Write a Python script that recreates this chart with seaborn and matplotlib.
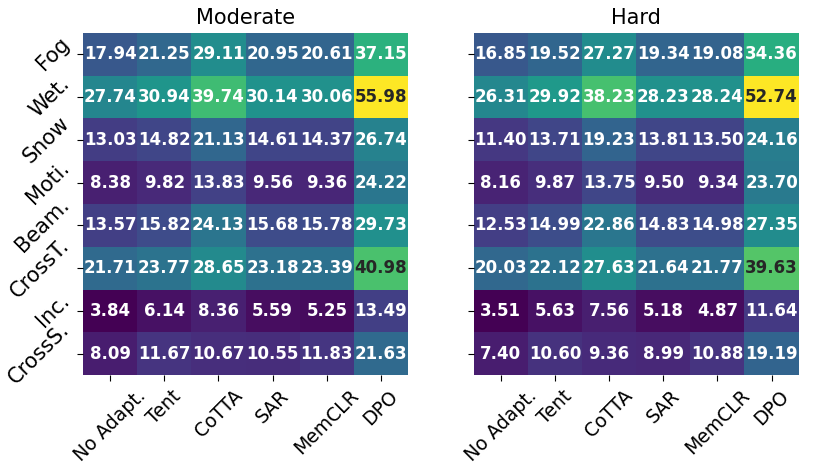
import numpy as np
import pandas as pd
import matplotlib
matplotlib.use('Agg')
import matplotlib.pyplot as plt
import seaborn as sns

# Corruption types (rows) and methods (columns)
corruptions = ['Fog', 'Wet.', 'Snow', 'Moti.', 'Beam.', 'CrossT.', 'Inc.', 'CrossS.']
methods = ['No Adapt.', 'Tent', 'CoTTA', 'SAR', 'MemCLR', 'DPO']

moderate = [
    [17.94, 21.25, 29.11, 20.95, 20.61, 37.15],
    [27.74, 30.94, 39.74, 30.14, 30.06, 55.98],
    [13.03, 14.82, 21.13, 14.61, 14.37, 26.74],
    [8.38, 9.82, 13.83, 9.56, 9.36, 24.22],
    [13.57, 15.82, 24.13, 15.68, 15.78, 29.73],
    [21.71, 23.77, 28.65, 23.18, 23.39, 40.98],
    [3.84, 6.14, 8.36, 5.59, 5.25, 13.49],
    [8.09, 11.67, 10.67, 10.55, 11.83, 21.63],
]

hard = [
    [16.85, 19.52, 27.27, 19.34, 19.08, 34.36],
    [26.31, 29.92, 38.23, 28.23, 28.24, 52.74],
    [11.40, 13.71, 19.23, 13.81, 13.50, 24.16],
    [8.16, 9.87, 13.75, 9.50, 9.34, 23.70],
    [12.53, 14.99, 22.86, 14.83, 14.98, 27.35],
    [20.03, 22.12, 27.63, 21.64, 21.77, 39.63],
    [3.51, 5.63, 7.56, 5.18, 4.87, 11.64],
    [7.40, 10.60, 9.36, 8.99, 10.88, 19.19],
]

fig = plt.figure(figsize=(8.31, 4.69), dpi=100)
ax1 = fig.add_axes([0.100, 0.200, 0.391, 0.730])
ax2 = fig.add_axes([0.570, 0.200, 0.391, 0.730])

for ax, data, title in [(ax1, moderate, 'Moderate'), (ax2, hard, 'Hard')]:
    df = pd.DataFrame(data, index=corruptions, columns=methods)
    sns.heatmap(df, ax=ax, cmap='viridis', annot=True, fmt='.2f', cbar=False,
                annot_kws={'fontsize': 12, 'fontweight': 'bold'})
    ax.set_title(title, fontsize=15)
    ax.set_xticklabels(methods, rotation=45, ha='center', fontsize=13.5)
    ax.set_yticklabels(corruptions, rotation=45, fontsize=15)
    ax.tick_params(axis='x', length=4, pad=4)
    ax.tick_params(axis='y', length=4, pad=3)

ax2.set_yticklabels([])

fig.savefig('out.png', dpi=100)
